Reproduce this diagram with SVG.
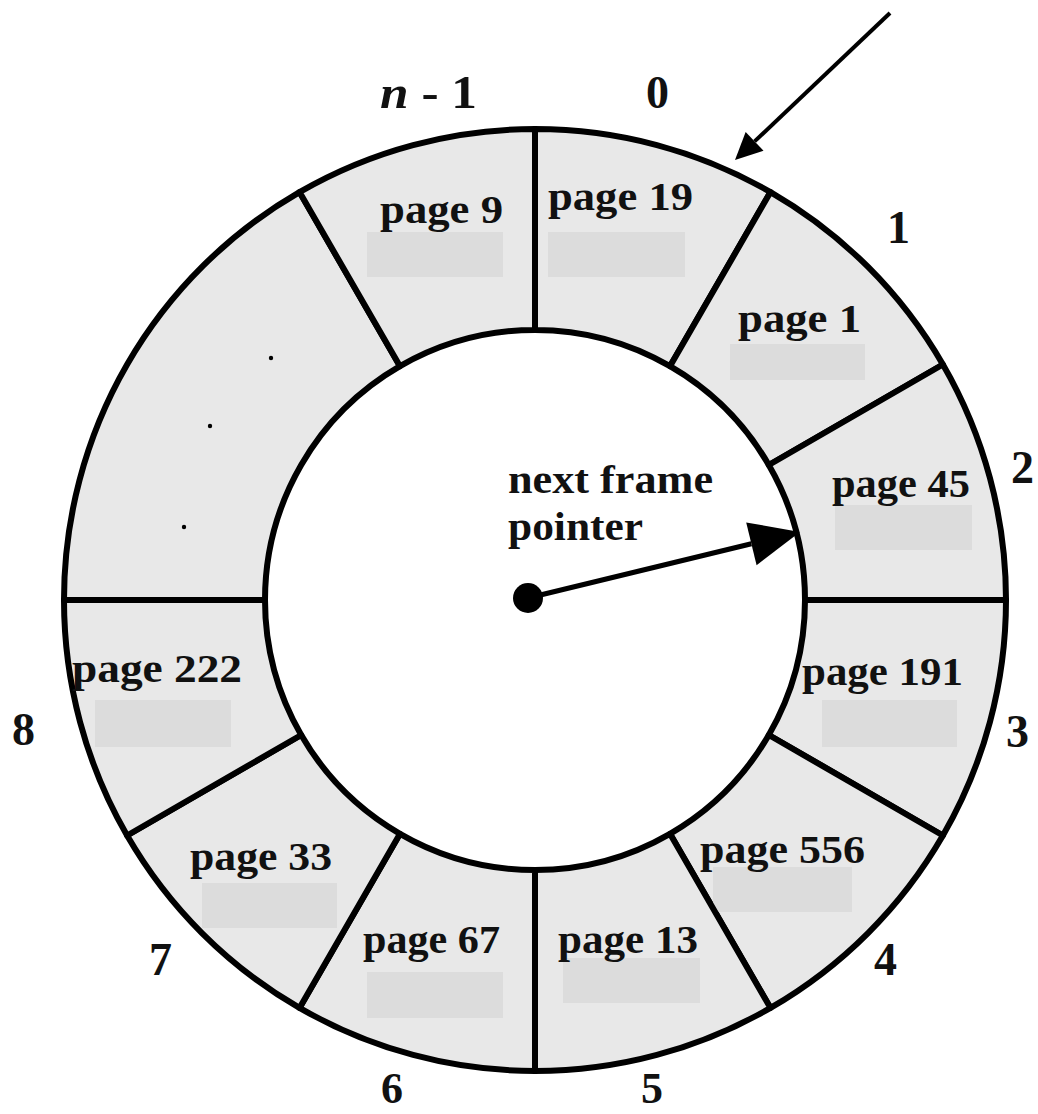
<svg xmlns="http://www.w3.org/2000/svg" width="1038" height="1114" viewBox="0 0 1038 1114">
<style>
.seg{fill:#e8e8e8;stroke:#000;stroke-width:6;stroke-linejoin:round}
.box{fill:#dcdcdc}
.pg{font-family:"Liberation Serif","Times New Roman",serif;font-weight:bold;font-size:40px;fill:#111}
.num{font-family:"Liberation Serif","Times New Roman",serif;font-weight:bold;font-size:46px;fill:#111}
.ln{stroke:#000;fill:none}
</style>
<defs>
<marker id="headBig" markerUnits="userSpaceOnUse" viewBox="0 -22 50 44" markerWidth="50" markerHeight="44" refX="0" refY="0" orient="auto" overflow="visible">
<path d="M0,-22 L50,0 L0,22 Z" fill="#000"/>
</marker>
<marker id="headSmall" markerUnits="userSpaceOnUse" viewBox="0 -13 27 26" markerWidth="27" markerHeight="26" refX="0" refY="0" orient="auto" overflow="visible">
<path d="M0,-13 L27,0 L0,13 Z" fill="#000"/>
</marker>
</defs>
<rect width="1038" height="1114" fill="#fff"/>

<g id="frame0">
<path class="seg" d="M535,129 A471,471 0 0 1 770.5,192.1 L670,366.2 A270,270 0 0 0 535,330 Z"/>
<rect class="box" x="548" y="232" width="137" height="45"/>
<text class="pg" x="548" y="210" textLength="145" lengthAdjust="spacingAndGlyphs">page 19</text>
</g>
<g id="frame1">
<path class="seg" d="M770.5,192.1 A471,471 0 0 1 942.9,364.5 L768.8,465 A270,270 0 0 0 670,366.2 Z"/>
<rect class="box" x="730" y="344" width="135" height="36"/>
<text class="pg" x="738" y="332" textLength="123" lengthAdjust="spacingAndGlyphs">page 1</text>
</g>
<g id="frame2">
<path class="seg" d="M942.9,364.5 A471,471 0 0 1 1006,600 L805,600 A270,270 0 0 0 768.8,465 Z"/>
<rect class="box" x="835" y="505" width="137" height="45"/>
<text class="pg" x="832" y="497" textLength="138" lengthAdjust="spacingAndGlyphs">page 45</text>
</g>
<g id="frame3">
<path class="seg" d="M1006,600 A471,471 0 0 1 942.9,835.5 L768.8,735 A270,270 0 0 0 805,600 Z"/>
<rect class="box" x="822" y="700" width="135" height="47"/>
<text class="pg" x="802" y="685" textLength="161" lengthAdjust="spacingAndGlyphs">page 191</text>
</g>
<g id="frame4">
<path class="seg" d="M942.9,835.5 A471,471 0 0 1 770.5,1007.9 L670,833.8 A270,270 0 0 0 768.8,735 Z"/>
<rect class="box" x="713" y="867" width="139" height="45"/>
<text class="pg" x="700" y="863" textLength="165" lengthAdjust="spacingAndGlyphs">page 556</text>
</g>
<g id="frame5">
<path class="seg" d="M770.5,1007.9 A471,471 0 0 1 535,1071 L535,870 A270,270 0 0 0 670,833.8 Z"/>
<rect class="box" x="563" y="958" width="137" height="45"/>
<text class="pg" x="558" y="953" textLength="140" lengthAdjust="spacingAndGlyphs">page 13</text>
</g>
<g id="frame6">
<path class="seg" d="M535,1071 A471,471 0 0 1 299.5,1007.9 L400,833.8 A270,270 0 0 0 535,870 Z"/>
<rect class="box" x="367" y="972" width="136" height="46"/>
<text class="pg" x="363" y="953" textLength="137" lengthAdjust="spacingAndGlyphs">page 67</text>
</g>
<g id="frame7">
<path class="seg" d="M299.5,1007.9 A471,471 0 0 1 127.1,835.5 L301.2,735 A270,270 0 0 0 400,833.8 Z"/>
<rect class="box" x="202" y="883" width="135" height="45"/>
<text class="pg" x="190" y="870" textLength="142" lengthAdjust="spacingAndGlyphs">page 33</text>
</g>
<g id="frame8">
<path class="seg" d="M127.1,835.5 A471,471 0 0 1 64,600 L265,600 A270,270 0 0 0 301.2,735 Z"/>
<rect class="box" x="95" y="700" width="136" height="47"/>
<text class="pg" x="72" y="682" textLength="170" lengthAdjust="spacingAndGlyphs">page 222</text>
</g>
<g id="frames-ellipsis">
<path class="seg" d="M64,600 A471,471 0 0 1 299.5,192.1 L400,366.2 A270,270 0 0 0 265,600 Z"/>
<circle cx="271" cy="358" r="2.2" fill="#000"/>
<circle cx="210" cy="426" r="2.2" fill="#000"/>
<circle cx="184" cy="527" r="2.2" fill="#000"/>
</g>
<g id="frameN1">
<path class="seg" d="M299.5,192.1 A471,471 0 0 1 535,129 L535,330 A270,270 0 0 0 400,366.2 Z"/>
<rect class="box" x="367" y="232" width="136" height="45"/>
<text class="pg" x="380" y="223" textLength="123" lengthAdjust="spacingAndGlyphs">page 9</text>
</g>

<g id="index-labels">
<text class="num" x="380" y="108" textLength="97" lengthAdjust="spacingAndGlyphs"><tspan font-style="italic">n</tspan> - 1</text>
<text class="num" x="646" y="108">0</text>
<text class="num" x="887" y="243">1</text>
<text class="num" x="1011" y="483">2</text>
<text class="num" x="1006" y="747">3</text>
<text class="num" x="874" y="975">4</text>
<text class="num" x="641" y="1103" style="font-size:44px">5</text>
<text class="num" x="381" y="1103" style="font-size:44px">6</text>
<text class="num" x="149" y="975">7</text>
<text class="num" x="12" y="745">8</text>
</g>

<g id="pointer">
<text class="pg" x="508" y="493" textLength="205" lengthAdjust="spacingAndGlyphs">next frame</text>
<text class="pg" x="508" y="540" textLength="135" lengthAdjust="spacingAndGlyphs">pointer</text>
<circle cx="528" cy="598" r="15" fill="#000"/>
</g>

<g id="connectors">
<line class="ln" x1="528" y1="598" x2="751.4" y2="543.8" stroke-width="5" marker-end="url(#headBig)"/>
<line class="ln" x1="890" y1="13" x2="754.6" y2="141.4" stroke-width="4" marker-end="url(#headSmall)"/>
</g>
</svg>
